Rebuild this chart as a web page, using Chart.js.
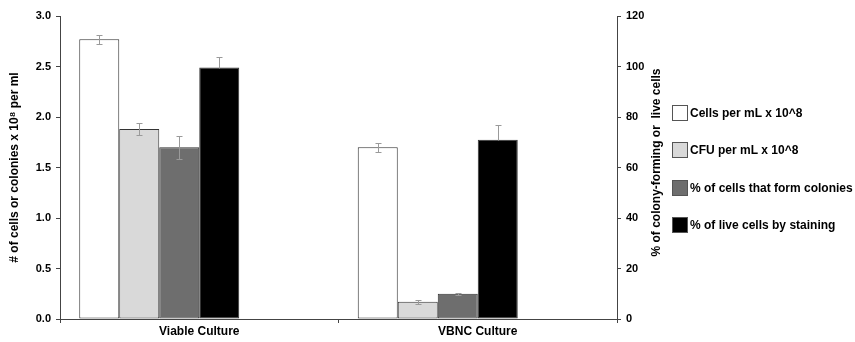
<!DOCTYPE html>
<html>
<head>
<meta charset="utf-8">
<script src="https://cdn.jsdelivr.net/npm/chart.js@4.4.1/dist/chart.umd.min.js"></script>
<style>
  html, body { margin: 0; padding: 0; background: #fff; }
</style>
</head>
<body>
<canvas id="chart" width="855" height="342"></canvas>
<script>
// --- Data ---
const categories = ["Viable Culture", "VBNC Culture"];
const cellsPerMl = [2.77, 1.70];
const cellsErr = [0.045, 0.043];
const cfuPerMl = [1.88, 0.17];
const cfuErr = [0.06, 0.017];
const pctColonies = [68.0, 10.0];
const pctColoniesErr = [4.5, 0.4];
const pctLive = [99.6, 71.0];
const pctLiveErr = [4.0, 6.0];

const FONT = "'Liberation Sans', Arial, sans-serif";
const AXIS = "#444";
const RIGHT_TITLE = "% of colony-forming or  live cells";

// --- Error bars drawn from each dataset's errors array ---
const errorBars = {
  id: "errorBars",
  afterDatasetsDraw(chart) {
    const ctx = chart.ctx;
    chart.data.datasets.forEach((ds, i) => {
      if (!ds.errors) return;
      const meta = chart.getDatasetMeta(i);
      const yScale = chart.scales[ds.yAxisID];
      meta.data.forEach((bar, j) => {
        const v = ds.data[j], e = ds.errors[j];
        if (v == null || e == null) return;
        const x = Math.round(bar.x) + 0.5;
        const top = Math.round(yScale.getPixelForValue(v + e)) + 0.5;
        const bottom = Math.round(yScale.getPixelForValue(ds.plusOnly ? v : v - e)) + 0.5;
        ctx.save();
        ctx.strokeStyle = "#9a9a9a";
        ctx.lineWidth = 1;
        ctx.beginPath();
        ctx.moveTo(x, top); ctx.lineTo(x, bottom);
        ctx.moveTo(x - 3, top); ctx.lineTo(x + 3, top);
        if (!ds.plusOnly) { ctx.moveTo(x - 3, bottom); ctx.lineTo(x + 3, bottom); }
        ctx.stroke();
        ctx.restore();
      });
    });
  }
};

// --- Legend: square swatches stacked on the right, plus the right axis title ---
const boxLegend = {
  id: "boxLegend",
  afterDraw(chart) {
    const ctx = chart.ctx;
    ctx.save();
    ctx.font = "bold 12px " + FONT;
    ctx.textBaseline = "middle";
    let n = 0;
    chart.data.datasets.forEach(ds => {
      if (!ds.label) return;
      const y = Math.round(113 + n * 37.3);
      ctx.fillStyle = ds.backgroundColor;
      ctx.fillRect(672, y - 8, 16, 16);
      ctx.strokeStyle = "#555";
      ctx.lineWidth = 1;
      ctx.strokeRect(672.5, y - 7.5, 15, 15);
      ctx.fillStyle = "#000";
      ctx.fillText(ds.label, 690, y + 1);
      n++;
    });

    // right axis title reads bottom-to-top, like the left one
    const r = chart.scales.y2;
    ctx.translate(r.right - 15, (r.top + r.bottom) / 2 - 5);
    ctx.rotate(-Math.PI / 2);
    ctx.textAlign = "center";
    ctx.fillText(RIGHT_TITLE, 0, 0);
    ctx.restore();
  }
};

function barSet(label, data, errors, color, axis, plusOnly) {
  return {
    label, data, errors, plusOnly,
    yAxisID: axis,
    backgroundColor: color,
    borderColor: "#333",
    borderWidth: 1,
    borderSkipped: false,
    barPercentage: 1,
    categoryPercentage: 240 / 278.5
  };
}
// two empty slots keep the bars to the left of each category, as in the original
function spacer() {
  return { data: [null, null], yAxisID: "y", barPercentage: 1, categoryPercentage: 240 / 278.5 };
}

new Chart(document.getElementById("chart"), {
  type: "bar",
  data: {
    labels: categories,
    datasets: [
      barSet("Cells per mL x 10^8", cellsPerMl, cellsErr, "#ffffff", "y", false),
      barSet("CFU per mL x 10^8", cfuPerMl, cfuErr, "#d9d9d9", "y", false),
      barSet("% of cells that form colonies", pctColonies, pctColoniesErr, "#6e6e6e", "y2", false),
      barSet("% of live cells by staining", pctLive, pctLiveErr, "#000000", "y2", true),
      spacer(),
      spacer()
    ]
  },
  options: {
    responsive: false,
    animation: false,
    devicePixelRatio: 1,
    layout: { padding: { top: 16, right: 183, bottom: 0, left: 0 } },
    plugins: {
      legend: { display: false },
      tooltip: { enabled: false }
    },
    scales: {
      x: {
        offset: true,
        grid: { offset: true, drawOnChartArea: false, tickLength: 4, color: AXIS },
        border: { color: AXIS },
        ticks: { color: "#000", font: { family: FONT, size: 12, weight: "bold" }, padding: 1 },
        afterFit(s) { s.height = 23; }
      },
      y: {
        position: "left",
        min: 0, max: 3,
        ticks: {
          stepSize: 0.5,
          callback: v => v.toFixed(1),
          color: "#000",
          font: { family: FONT, size: 11, weight: "bold" },
          padding: 5
        },
        grid: { drawOnChartArea: false, tickLength: 4, color: AXIS },
        border: { color: AXIS },
        title: {
          display: true,
          text: "# of cells or colonies x 10⁸ per ml",
          color: "#000",
          font: { family: FONT, size: 12, weight: "bold" },
          padding: { top: 7, bottom: 0 }
        },
        afterFit(s) { s.width = 60; }
      },
      y2: {
        position: "right",
        min: 0, max: 120,
        ticks: {
          stepSize: 20,
          color: "#000",
          font: { family: FONT, size: 11, weight: "bold" },
          padding: 5
        },
        grid: { drawOnChartArea: false, tickLength: 4, color: AXIS },
        border: { color: AXIS },
        afterFit(s) { s.width = 55; }
      }
    }
  },
  plugins: [errorBars, boxLegend]
});
</script>
</body>
</html>
